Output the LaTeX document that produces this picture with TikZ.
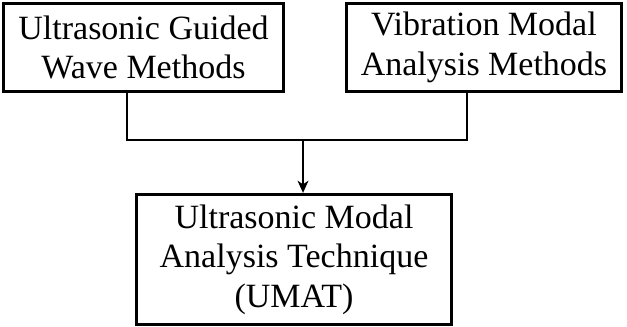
\documentclass[tikz,border=0pt]{standalone}
\usepackage{fontspec}
\setmainfont{Liberation Serif}
\usetikzlibrary{arrows.meta}
\tikzset{
	method/.style = {
		draw,
		line width=2.4pt,
		rectangle,
		align=center,
		inner sep=0pt,
		font=\fontsize{25.5}{29.5}\selectfont
	},
	connect/.style = {
		line width=2.1pt,
		black
	},
	arrow/.style = {
		connect,
		-{Stealth[length=9pt,width=8pt,inset=2.5pt]}
	}
}

\begin{document}
\begin{tikzpicture}[x=0.75pt,y=-0.75pt]
\useasboundingbox (0,0) rectangle (627,327);
\node[method, minimum width=210pt, minimum height=66pt] (guided) at (143.5,47.5) {Ultrasonic Guided\\Wave Methods};
\node[method, minimum width=206pt, minimum height=66pt] (vibration) at (484,47.5) {Vibration Modal\\Analysis Methods};
\node[method, minimum width=236pt, minimum height=97.5pt] (umat) at (294,259.5) {Ultrasonic Modal\\Analysis Technique\\(UMAT)};
\coordinate (lefttap) at (127,140);
\coordinate (righttap) at (467,140);
\coordinate (join) at (303,140);

\draw[connect] (lefttap |- guided.south) -- (lefttap) -- (righttap) -- (righttap |- vibration.south);
\draw[arrow] (join) -- (join |- umat.north);
\end{tikzpicture}
\end{document}
